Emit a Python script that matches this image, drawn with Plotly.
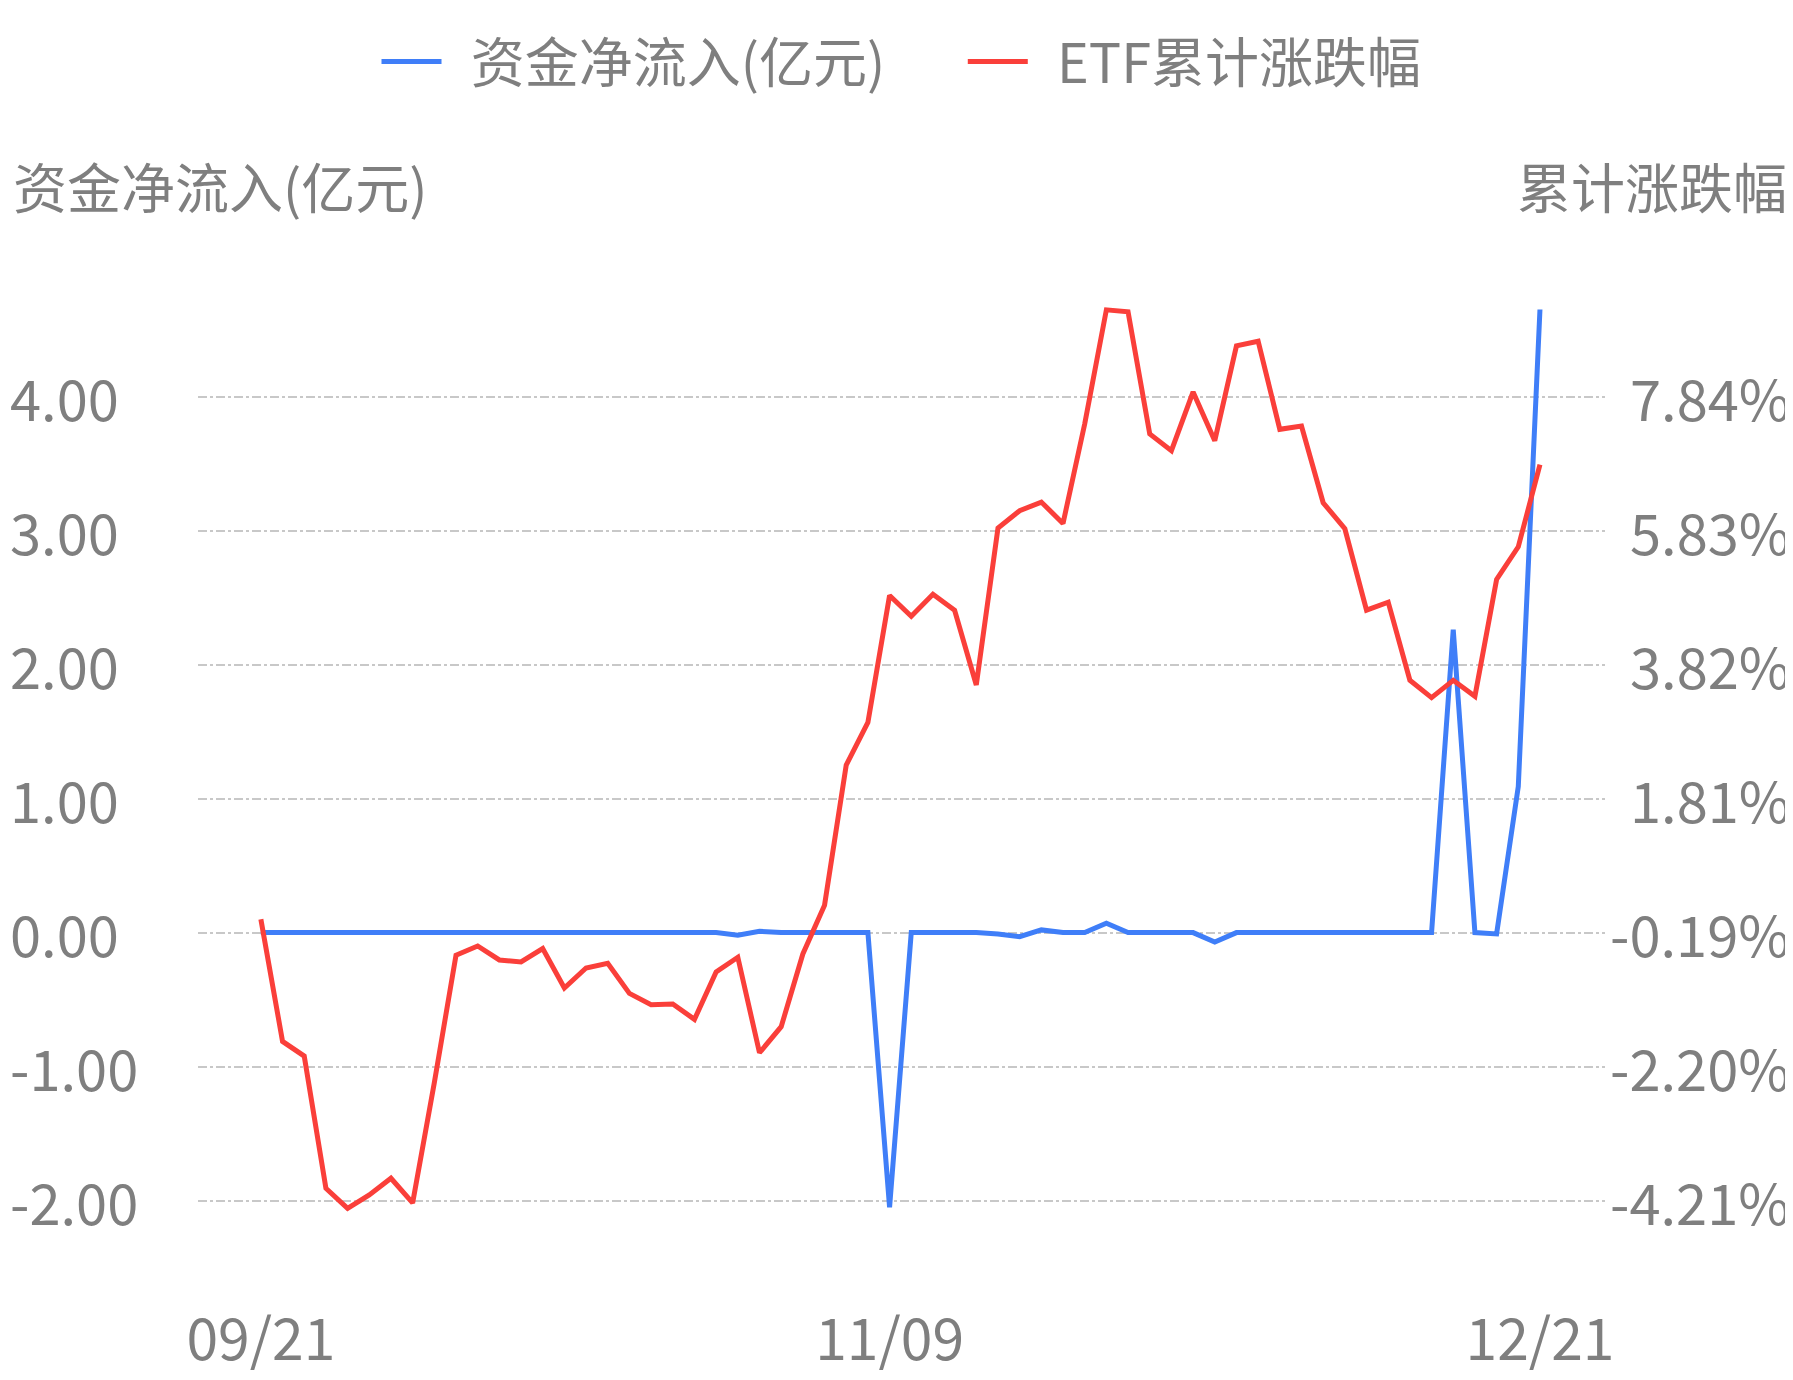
import plotly.graph_objects as go

x_labels = ["09/21", "11/09", "12/21"]
x_label_idx = [0, 29, 59]
flow = [0]*60
flow_changes = {22: -0.02, 23: 0.01, 29: -2.05, 34: -0.01, 35: -0.03, 36: 0.02, 39: 0.07, 44: -0.07,
                55: 2.26, 57: -0.01, 58: 1.09, 59: 4.65}
for k, v in flow_changes.items():
    flow[k] = v
pct = [0.01, -1.82, -2.04, -4.02, -4.32, -4.12, -3.87, -4.24, -2.44, -0.53,
       -0.39, -0.60, -0.63, -0.43, -1.02, -0.72, -0.65, -1.10, -1.27, -1.26,
       -1.49, -0.78, -0.56, -1.99, -1.60, -0.51, 0.22, 2.32, 2.96, 4.86,
       4.55, 4.88, 4.64, 3.52, 5.87, 6.13, 6.26, 5.94, 7.43, 9.14,
       9.11, 7.28, 7.03, 7.91, 7.18, 8.60, 8.67, 7.35, 7.40, 6.25,
       5.86, 4.64, 4.76, 3.59, 3.33, 3.59, 3.35, 5.10, 5.59, 6.82]
left_ticks = [-2, -1, 0, 1, 2, 3, 4]
left_labels = ["-2.00", "-1.00", "0.00", "1.00", "2.00", "3.00", "4.00"]
right_labels = ["-4.21%", "-2.20%", "-0.19%", "1.81%", "3.82%", "5.83%", "7.84%"]
r_off, r_scale = -0.19, 2.0075

xs = list(range(60))
font = "Noto Sans CJK SC"
gray = "#7f7f7f"
fs = 56
fig = go.Figure()
fig.add_trace(go.Scatter(x=xs, y=flow, name="  资金净流入(亿元)      ", mode="lines",
                         line=dict(color="#3f7ef8", width=5)))
fig.add_trace(go.Scatter(x=xs, y=pct, name="  ETF累计涨跌幅", mode="lines", yaxis="y2",
                         line=dict(color="#fa3f3a", width=5)))
lo, hi = -2.6, 4.9
annotations = [
    dict(text="资金净流入(亿元)", xref="paper", yref="paper", x=-0.133, y=1.09,
         xanchor="left", yanchor="middle", showarrow=False, font=dict(size=54, color=gray)),
    dict(text="累计涨跌幅", xref="paper", yref="paper", x=1.131, y=1.09,
         xanchor="right", yanchor="middle", showarrow=False, font=dict(size=54, color=gray)),
]
for v, lab, rlab in zip(left_ticks, left_labels, right_labels):
    annotations.append(dict(text=lab, xref="paper", yref="y", x=-0.135, y=v, xanchor="left",
                            yanchor="middle", showarrow=False, font=dict(size=fs, color=gray)))
    annotations.append(dict(text=rlab, xref="paper", yref="y", x=1.133, y=v, xanchor="right",
                            yanchor="middle", showarrow=False, font=dict(size=fs, color=gray)))
fig.update_layout(
    width=1793, height=1380, plot_bgcolor="white", paper_bgcolor="white",
    margin=dict(l=190, r=196, t=221, b=78),
    font=dict(family=font, color=gray, size=fs),
    legend=dict(orientation="h", x=0.5, xanchor="center", y=1.213, yanchor="middle",
                font=dict(size=54, color=gray), itemwidth=60),
    xaxis=dict(range=[-2.9, 62], tickvals=x_label_idx, ticktext=x_labels, showgrid=False,
               zeroline=False, ticks="outside", ticklen=10, tickcolor="rgba(0,0,0,0)",
               tickfont=dict(size=57, color=gray)),
    yaxis=dict(range=[lo, hi], tickvals=left_ticks, showticklabels=False, zeroline=False,
               gridcolor="#c8c8c8", griddash="dashdot", gridwidth=1.5),
    yaxis2=dict(overlaying="y", side="right", range=[r_off + lo*r_scale, r_off + hi*r_scale],
                showticklabels=False, showgrid=False, zeroline=False),
    annotations=annotations,
)
fig.write_html("out.html")
